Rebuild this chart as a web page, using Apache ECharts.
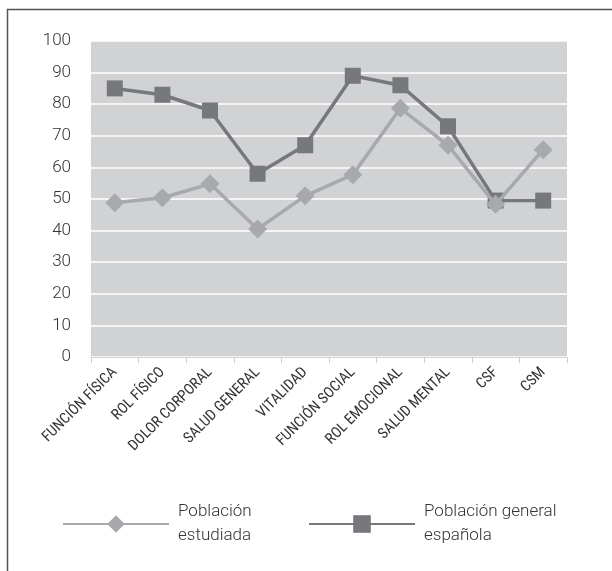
<!DOCTYPE html>
<html>
<head>
<meta charset="utf-8">
<script src="https://cdn.jsdelivr.net/npm/echarts@6/dist/echarts.min.js"></script>
<style>
html,body{margin:0;padding:0;background:#fff;}
#c{width:612px;height:571px;}
</style>
</head>
<body>
<div id="c"></div>
<script>
const categories = ['FUNCIÓN FÍSICA','ROL FÍSICO','DOLOR CORPORAL','SALUD GENERAL','VITALIDAD','FUNCIÓN SOCIAL','ROL EMOCIONAL','SALUD MENTAL','CSF','CSM'];
const estudiada = [48.8, 50.4, 54.8, 40.5, 51, 57.7, 78.7, 67, 48.3, 65.6];
const general = [85, 83, 78, 58, 67, 89, 86, 73, 49.5, 49.5];
const yTicks = {min: 0, max: 100, interval: 10};
const nameEst = 'Población\nestudiada';
const nameGen = 'Población general\nespañola';

const chart = echarts.init(document.getElementById('c'), null, {renderer: 'canvas'});
const lightCol = '#a7a9ac';
const darkCol = '#77787b';
const txt = '#333333';
const fontMain = 'Roboto, "Liberation Sans", sans-serif';

const legendCommon = {
  orient: 'horizontal',
  itemWidth: 106,
  itemHeight: 22,
  padding: 0,
  selectedMode: false,
  textStyle: {fontSize: 17, color: txt, fontFamily: fontMain, fontWeight: 300, lineHeight: 24, padding: [0,0,0,4]}
};

chart.setOption({
  animation: false,
  graphic: [{
    type: 'rect',
    shape: {x: 7.5, y: 9.5, width: 800, height: 800},
    style: {fill: 'none', stroke: '#555', lineWidth: 1.5},
    silent: true
  }],
  grid: {
    left: 91, right: 45, top: 41, bottom: 214,
    show: true, backgroundColor: '#d1d2d4', borderWidth: 0
  },
  legend: [
    Object.assign({}, legendCommon, {left: 62, top: 500, data: [nameEst]}),
    Object.assign({}, legendCommon, {left: 308, top: 500, data: [nameGen]})
  ],
  xAxis: {
    type: 'category',
    data: categories,
    boundaryGap: true,
    axisLine: {show: true, lineStyle: {color: '#d1d2d4', width: 1}},
    axisTick: {show: true, length: 6, lineStyle: {color: '#cfcfcf', width: 1}},
    axisLabel: {
      rotate: 45, interval: 0, margin: 13,
      fontSize: 15, color: txt,
      fontFamily: '"Liberation Sans Narrow", "Roboto Condensed", "DejaVu Sans Condensed", sans-serif'
    },
    splitLine: {show: false}
  },
  yAxis: {
    type: 'value',
    min: yTicks.min, max: yTicks.max, interval: yTicks.interval,
    axisLine: {show: false},
    axisTick: {show: false},
    axisLabel: {fontSize: 17, color: txt, fontFamily: fontMain, fontWeight: 300, margin: 20},
    splitLine: {show: true, lineStyle: {color: '#ffffff', width: 1.5}}
  },
  series: [
    {
      name: nameGen,
      type: 'line',
      data: general,
      symbol: 'rect',
      symbolSize: 16,
      lineStyle: {color: darkCol, width: 3.5},
      itemStyle: {color: darkCol},
      z: 2
    },
    {
      name: nameEst,
      type: 'line',
      data: estudiada,
      symbol: 'diamond',
      symbolSize: 19,
      lineStyle: {color: lightCol, width: 3.5},
      itemStyle: {color: lightCol},
      z: 3
    }
  ]
});
</script>
</body>
</html>
